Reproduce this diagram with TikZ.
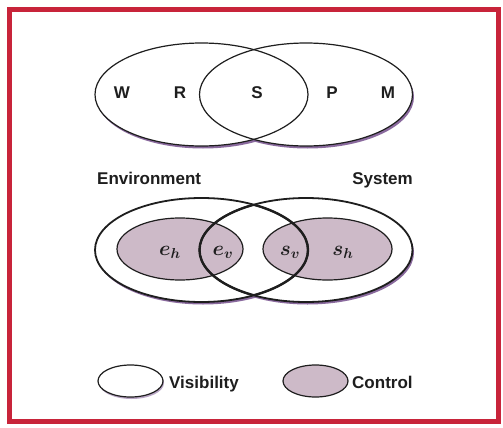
\documentclass[tikz,border=0pt]{standalone}
\usepackage{fontspec}
\setsansfont{Liberation Sans}
\usetikzlibrary{shapes.geometric}
\definecolor{frame}{HTML}{C8243A}
\definecolor{ctrl}{HTML}{CDBAC8}
\definecolor{shade}{HTML}{8A6A9E}
\definecolor{ink}{HTML}{1E1E1E}
\begin{document}
\begin{tikzpicture}[x=1pt,y=-1pt,
  txt/.style={font=\sffamily\bfseries\fontsize{17}{17}\selectfont, inner sep=0, text=ink},
  mlbl/.style={font=\fontsize{20}{20}\selectfont\boldmath, inner sep=0, text=ink},
  thinline/.style={draw=ink, line width=1.2pt},
  midline/.style={draw=ink, line width=1.8pt},
  boldline/.style={draw=ink, line width=2.4pt},
  shadow/.style={fill=shade},
  lightshadow/.style={fill=shade!60},
  ctrlfill/.style={fill=ctrl}]
\fill[white] (0,0) rectangle (503,428);
\useasboundingbox (0,0) rectangle (503,428);
\draw[frame, line width=5pt] (9.5,9.5) rectangle (498,421.5);

% ---------- top diagram ----------
\fill[shadow] (203,97) ellipse [x radius=106.5, y radius=51.5];
\fill[shadow] (307.5,97) ellipse [x radius=106.5, y radius=51.5];
\fill[white] (201.5,94.5) ellipse [x radius=106.5, y radius=51.5];
\fill[white] (306,94.5) ellipse [x radius=106.5, y radius=51.5];
\draw[thinline] (201.5,94.5) ellipse [x radius=106.5, y radius=51.5];
\draw[thinline] (306,94.5) ellipse [x radius=106.5, y radius=51.5];
\node[txt] (w) at (122,93) {W};
\node[txt] (r) at (180,93) {R};
\node[txt] (s) at (257,93) {S};
\node[txt] (p) at (332,93) {P};
\node[txt] (m) at (388,93) {M};

\node[txt, anchor=base west] (env) at (97,184) {Environment};
\node[txt, anchor=base east] (sys) at (413,184) {System};

% ---------- bottom diagram ----------
\fill[shadow] (203,252.5) ellipse [x radius=106.5, y radius=52];
\fill[shadow] (307.5,252.5) ellipse [x radius=106.5, y radius=52];
\fill[white] (201.5,250) ellipse [x radius=106.5, y radius=52];
\fill[white] (306,250) ellipse [x radius=106.5, y radius=52];
\fill[ctrlfill] (180,249) ellipse [x radius=63, y radius=31];
\fill[ctrlfill] (327.5,249) ellipse [x radius=64.5, y radius=31];
\draw[thinline] (180,249) ellipse [x radius=63, y radius=31];
\draw[thinline] (327.5,249) ellipse [x radius=64.5, y radius=31];
\draw[midline] (201.5,250) ellipse [x radius=106.5, y radius=52];
\draw[midline] (306,250) ellipse [x radius=106.5, y radius=52];
\begin{scope}
  \clip (306,250) ellipse [x radius=106.5, y radius=52];
  \draw[boldline] (201.5,250) ellipse [x radius=106.5, y radius=52];
\end{scope}
\begin{scope}
  \clip (201.5,250) ellipse [x radius=106.5, y radius=52];
  \draw[boldline] (306,250) ellipse [x radius=106.5, y radius=52];
\end{scope}
\node[mlbl] (eh) at (170,252) {$e_h$};
\node[mlbl] (ev) at (223,252) {$e_v$};
\node[mlbl] (sv) at (290,252) {$s_v$};
\node[mlbl] (sh) at (343,252) {$s_h$};

% ---------- legend ----------
\fill[lightshadow] (131.5,383) ellipse [x radius=32.5, y radius=16];
\fill[white] (130.5,381) ellipse [x radius=32.5, y radius=16];
\draw[thinline] (130.5,381) ellipse [x radius=32.5, y radius=16];
\node[txt, anchor=base west] (vis) at (169,388) {Visibility};
\fill[ctrlfill] (315.5,381) ellipse [x radius=32.5, y radius=16];
\draw[thinline] (315.5,381) ellipse [x radius=32.5, y radius=16];
\node[txt, anchor=base west] (ctl) at (352,388) {Control};
\end{tikzpicture}
\end{document}
